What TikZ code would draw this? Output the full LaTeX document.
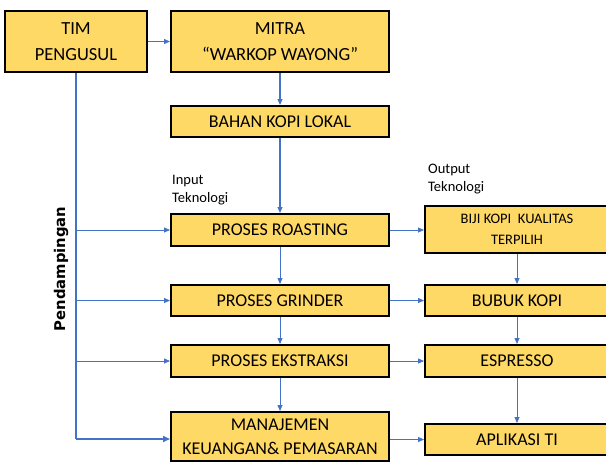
\documentclass[tikz,border=0pt]{standalone}
\usepackage{fontspec}
\setmainfont{Carlito}
\newfontfamily\pendfont{DejaVu Sans}
\usetikzlibrary{arrows.meta}
\definecolor{boxfill}{HTML}{FFD966}
\definecolor{linkblue}{HTML}{4472C4}
\tikzset{
  x=1pt, y=-1pt,
  box/.style={draw=black, line width=2pt, fill=boxfill, rectangle, inner sep=1pt, align=center, font=\fontsize{18}{24}\selectfont},
  wide/.style={minimum width=218pt},
  side/.style={minimum width=184pt},
  link/.style={draw=linkblue, line width=0.75pt, -{Triangle[length=6pt,width=5pt]}},
  trunk/.style={draw=linkblue, line width=1.6pt},
  note/.style={align=left, anchor=north west, inner sep=0pt, font=\fontsize{14.5}{18}\selectfont}
}
\begin{document}
\begin{tikzpicture}
\useasboundingbox (0,0) rectangle (606,464);
\begin{scope}
\clip (0,0) rectangle (606,464);
\node[box, minimum width=142pt, minimum height=61pt, font=\fontsize{18.5}{26}\selectfont] (tim) at (76,41.5) {TIM\\PENGUSUL};
\node[box, wide, minimum height=61pt, font=\fontsize{18.5}{26}\selectfont] (mitra) at (280,41.5) {MITRA\\``WARKOP\ WAYONG''};
\node[box, wide, minimum height=31pt] (bahan) at (280,121.5) {BAHAN KOPI LOKAL};
\node[box, wide, minimum height=32pt] (roast) at (280,230) {PROSES ROASTING};
\node[box, wide, minimum height=31pt] (grind) at (280,300.5) {PROSES GRINDER};
\node[box, wide, minimum height=32pt] (ekstr) at (280,361) {PROSES EKSTRAKSI};
\node[box, wide, minimum height=49pt] (manaj) at (280,436.5) {MANAJEMEN\\KEUANGAN\& PEMASARAN};
\node[box, side, minimum height=47pt, font=\fontsize{14.5}{21}\selectfont] (biji) at (517,229.5) {BIJI KOPI\ \ KUALITAS\\TERPILIH};
\node[box, side, minimum height=31pt] (bubuk) at (517,300.5) {BUBUK KOPI};
\node[box, side, minimum height=32pt] (espr) at (517,361) {ESPRESSO};
\node[box, side, minimum height=31pt] (apl) at (517,439.5) {APLIKASI TI};
\end{scope}

\node[note] (inp) at (172,175) {Input\\Teknologi};
\node[note] (outp) at (428,164) {Output\\Teknologi};
\node[rotate=90, font=\pendfont\bfseries\fontsize{14.8}{18}\selectfont, inner sep=0pt] (pend) at (61,269) {Pendampingan};

\coordinate (t1) at (76,230);
\coordinate (t2) at (76,300.5);
\coordinate (t3) at (76,361);
\coordinate (t4) at (76,439);

\draw[trunk] (tim.south) -- (t4);
\draw[trunk, -{Triangle[length=7pt,width=6pt]}] (t4) -- (manaj.west |- t4);
\draw[link, line width=1.1pt] (tim.east) -- (mitra.west |- tim.east);
\draw[link] (t1) -- (roast.west);
\draw[link] (t2) -- (grind.west);
\draw[link] (t3) -- (ekstr.west);

\draw[link, line width=1.1pt] (mitra.south) -- (bahan.north);
\draw[link, line width=1.1pt] (bahan.south) -- (roast.north);
\draw[link] (roast.south) -- (grind.north);
\draw[link] (grind.south) -- (ekstr.north);
\draw[link] (ekstr.south) -- (manaj.north);

\draw[link] (roast.east) -- (biji.west |- roast.east);
\draw[link] (grind.east) -- (bubuk.west);
\draw[link] (ekstr.east) -- (espr.west);
\draw[link] (manaj.east |- apl.west) -- (apl.west);

\draw[link] (biji.south) -- (bubuk.north);
\draw[link] (bubuk.south) -- (espr.north);
\draw[link] (espr.south) -- (apl.north);
\end{tikzpicture}
\end{document}
